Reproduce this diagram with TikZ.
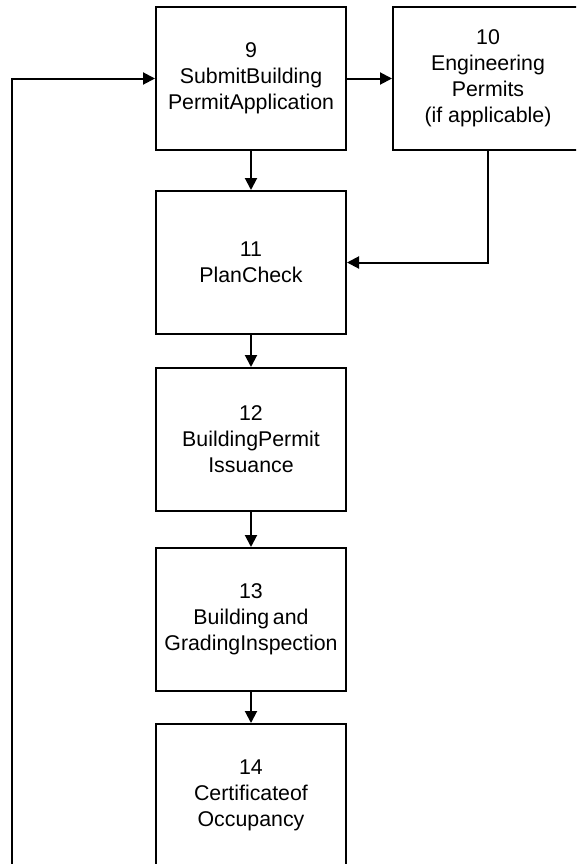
\documentclass[tikz,border=0pt]{standalone}
\usepackage{fontspec}
\setmainfont{Liberation Sans}
\usetikzlibrary{arrows.meta}

\begin{document}
\begin{tikzpicture}[x=0.75pt, y=-0.75pt,
          stage/.style={rectangle, draw=black, line width=1.5pt, minimum width=142.5pt,
            minimum height=107.25pt, inner sep=0pt, align=center, anchor=north west,
            font=\fontsize{16}{19.5}\selectfont},
          flow/.style={line width=1.5pt, -{Triangle[length=9pt, width=9pt]}}]
          \useasboundingbox (0,0) rectangle (576,864);
          \clip (0,0) rectangle (576,864);
          \node[stage] (submit) at (155,6) {9\\SubmitBuilding\\PermitApplication};
          \node[stage] (engineering) at (392,6) {10\\Engineering\\Permits\\(if applicable)};
          \node[stage] (plancheck) at (155,190) {11\\PlanCheck};
          \node[stage] (issuance) at (155,367) {12\\BuildingPermit\\Issuance};
          \node[stage] (inspection) at (155,547) {13\\Building\,and\\GradingInspection};
          \node[stage] (occupancy) at (155,723) {14\\Certificateof\\Occupancy};
          \coordinate (back) at (12,870);
          \draw[flow] (submit) -- (engineering);
          \draw[flow] (submit) -- (plancheck);
          \draw[flow] (engineering.south) |- (plancheck.east);
          \draw[flow] (plancheck) -- (issuance);
          \draw[flow] (issuance) -- (inspection);
          \draw[flow] (inspection) -- (occupancy);
          \draw[flow] (back) |- (submit.west);
        \end{tikzpicture}
\end{document}
